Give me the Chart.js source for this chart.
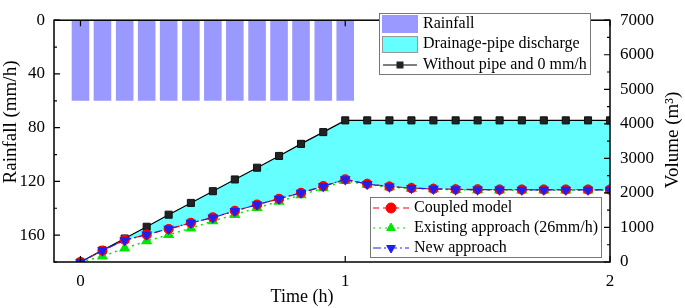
<!DOCTYPE html>
<html>
<head>
<meta charset="utf-8">
<script src="https://cdn.jsdelivr.net/npm/chart.js@4.4.0/dist/chart.umd.min.js"></script>
<style>
  html, body { margin: 0; padding: 0; background: #fff; }
  #chart { display: block; }
</style>
</head>
<body>
<canvas id="chart" width="685" height="308"></canvas>
<script>
// time axis (h), one point every 5 min
var times = [0, 0.083, 0.167, 0.25, 0.333, 0.417, 0.5, 0.583, 0.667, 0.75, 0.833, 0.917, 1,
             1.083, 1.167, 1.25, 1.333, 1.417, 1.5, 1.583, 1.667, 1.75, 1.833, 1.917, 2];

// rainfall bars (mm/h), left axis
var rainTimes = [0, 0.083, 0.167, 0.25, 0.333, 0.417, 0.5, 0.583, 0.667, 0.75, 0.833, 0.917, 1];
var rainfall = [60, 60, 60, 60, 60, 60, 60, 60, 60, 60, 60, 60, 60];

// volumes (m3), right axis
var withoutPipe = [0, 340, 680, 1020, 1370, 1710, 2050, 2390, 2730, 3070, 3420, 3760, 4100,
                   4100, 4100, 4100, 4100, 4100, 4100, 4100, 4100, 4100, 4100, 4100, 4100];
var coupled = [0, 330, 640, 790, 955, 1130, 1290, 1480, 1660, 1830, 2000, 2195, 2390,
               2260, 2185, 2140, 2120, 2105, 2100, 2095, 2095, 2095, 2095, 2095, 2095];
var existing = [0, 165, 395, 605, 790, 975, 1185, 1370, 1570, 1755, 1940, 2140, 2350,
                2240, 2170, 2130, 2110, 2090, 2085, 2080, 2080, 2080, 2080, 2080, 2080];
var newApproach = [0, 335, 630, 795, 960, 1130, 1285, 1475, 1660, 1830, 2005, 2190, 2390,
                   2255, 2180, 2140, 2115, 2100, 2095, 2095, 2090, 2090, 2090, 2090, 2090];

var xTicks = [0, 1, 2];
var rainTicks = [0, 40, 80, 120, 160];
var volTicks = [0, 1000, 2000, 3000, 4000, 5000, 6000, 7000];

var FONT = "'Liberation Serif', 'Times New Roman', serif";

function pts(xs, ys) {
  return xs.map(function (x, i) { return { x: x, y: ys[i] }; });
}

function plainLabel(v) { return String(v); }

// frame, inward ticks, axis titles and the two legend boxes
var decorPlugin = {
  id: 'decor',
  afterDraw: function (chart) {
    var ctx = chart.ctx, a = chart.chartArea;
    var sx = chart.scales.x, yl = chart.scales.yL, yr = chart.scales.yR;
    ctx.save();
    ctx.strokeStyle = '#000';
    ctx.lineWidth = 1.5;
    ctx.strokeRect(a.left, a.top, a.right - a.left, a.bottom - a.top);

    ctx.lineWidth = 1.2;
    ctx.beginPath();
    for (var v = 0; v <= 180; v += 20) {
      var p = yl.getPixelForValue(v);
      var len = v % 40 === 0 ? 6 : 3;
      ctx.moveTo(a.left, p); ctx.lineTo(a.left + len, p);
    }
    for (var w = 0; w <= 7000; w += 500) {
      var q = yr.getPixelForValue(w);
      var len2 = w % 1000 === 0 ? 6 : 3;
      ctx.moveTo(a.right, q); ctx.lineTo(a.right - len2, q);
    }
    xTicks.forEach(function (t) {
      var px = sx.getPixelForValue(t);
      ctx.moveTo(px, a.bottom); ctx.lineTo(px, a.bottom - 6);
      ctx.moveTo(px, a.top); ctx.lineTo(px, a.top + 6);
    });
    ctx.stroke();

    // axis titles
    ctx.fillStyle = '#000';
    ctx.textAlign = 'center';
    ctx.textBaseline = 'middle';
    ctx.font = '18px ' + FONT;
    ctx.fillText('Time (h)', 302, 297);
    ctx.font = '19px ' + FONT;
    ctx.save();
    ctx.translate(11, 122);
    ctx.rotate(-Math.PI / 2);
    ctx.fillText('Rainfall (mm/h)', 0, 0);
    ctx.restore();
    ctx.save();
    ctx.translate(673, 140);
    ctx.rotate(-Math.PI / 2);
    ctx.fillText('Volume (m\u00b3)', 0, 0);
    ctx.restore();

    // top legend
    ctx.font = '16px ' + FONT;
    ctx.textAlign = 'left';
    ctx.fillStyle = '#fff';
    ctx.fillRect(379, 13, 211, 61);
    ctx.strokeStyle = '#777';
    ctx.lineWidth = 1;
    ctx.strokeRect(379.5, 13.5, 211, 61);
    ctx.fillStyle = '#9999FF';
    ctx.fillRect(382, 15, 36, 18);
    ctx.fillStyle = '#66FFFF';
    ctx.fillRect(382, 36, 36, 17);
    ctx.strokeStyle = '#999';
    ctx.strokeRect(382.5, 36.5, 35, 16);
    ctx.strokeStyle = '#000';
    ctx.lineWidth = 1.2;
    ctx.beginPath(); ctx.moveTo(383, 65); ctx.lineTo(417, 65); ctx.stroke();
    ctx.fillStyle = '#222';
    ctx.fillRect(396.5, 61.5, 7, 7);
    ctx.fillStyle = '#000';
    ctx.fillText('Rainfall', 423, 24);
    ctx.fillText('Drainage-pipe discharge', 423, 44);
    ctx.fillText('Without pipe and 0 mm/h', 423, 65);

    // bottom legend
    ctx.fillStyle = '#fff';
    ctx.fillRect(370, 197, 231, 60);
    ctx.strokeStyle = '#777';
    ctx.lineWidth = 1;
    ctx.strokeRect(370.5, 197.5, 231, 60);
    var rows = [
      { y: 208, color: '#FF0000', dash: [6, 4], style: 'circle', rot: 0, label: 'Coupled model' },
      { y: 228, color: '#00E600', dash: [2, 4], style: 'triangle', rot: 0, label: 'Existing approach (26mm/h)' },
      { y: 248, color: '#1F1FF0', dash: [8, 3, 2, 3], style: 'triangle', rot: 180, label: 'New approach' }
    ];
    rows.forEach(function (r) {
      ctx.save();
      ctx.strokeStyle = r.color;
      ctx.lineWidth = 1.2;
      ctx.setLineDash(r.dash);
      ctx.beginPath(); ctx.moveTo(373, r.y); ctx.lineTo(409, r.y); ctx.stroke();
      ctx.restore();
      ctx.fillStyle = r.color;
      ctx.strokeStyle = r.color;
      Chart.helpers.drawPoint(ctx, { pointStyle: r.style, radius: 5, rotation: r.rot, borderWidth: 1 }, 391, r.y);
      ctx.fillStyle = '#000';
      ctx.fillText(r.label, 414, r.y);
    });
    ctx.restore();
  }
};

var config = {
  type: 'line',
  data: {
    datasets: [{
      type: 'bar',
      label: 'Rainfall',
      data: pts(rainTimes, rainfall),
      xAxisID: 'x',
      yAxisID: 'yL',
      backgroundColor: '#9999FF',
      borderWidth: 0,
      barPercentage: 0.8,
      categoryPercentage: 1,
      order: 4
    }, {
      label: 'Without pipe and 0 mm/h',
      data: pts(times, withoutPipe),
      yAxisID: 'yR',
      borderColor: '#000',
      borderWidth: 1.2,
      backgroundColor: '#66FFFF',
      fill: 2,
      pointStyle: 'rect',
      pointRadius: 5,
      pointBackgroundColor: '#222',
      pointBorderColor: '#111',
      pointBorderWidth: 1,
      order: 3
    }, {
      label: 'Coupled model',
      data: pts(times, coupled),
      yAxisID: 'yR',
      borderColor: '#FF0000',
      borderWidth: 1.2,
      borderDash: [6, 4],
      fill: false,
      pointStyle: 'circle',
      pointRadius: 4.5,
      pointBackgroundColor: '#FF0000',
      pointBorderColor: '#FF0000',
      order: 1
    }, {
      label: 'Existing approach (26mm/h)',
      data: pts(times, existing),
      yAxisID: 'yR',
      borderColor: '#00E600',
      borderWidth: 1.5,
      borderDash: [2, 4],
      fill: false,
      pointStyle: 'triangle',
      pointRadius: 5,
      pointBackgroundColor: '#00E600',
      pointBorderColor: '#00E600',
      order: 2
    }, {
      label: 'New approach',
      data: pts(times, newApproach),
      yAxisID: 'yR',
      borderColor: '#1F1FF0',
      borderWidth: 1.2,
      borderDash: [8, 3, 2, 3],
      fill: false,
      pointStyle: 'triangle',
      pointRotation: 180,
      pointRadius: 5,
      pointBackgroundColor: '#1F1FF0',
      pointBorderColor: '#1F1FF0',
      order: 0
    }]
  },
  options: {
    responsive: false,
    devicePixelRatio: 1,
    animation: false,
    layout: { padding: { top: 8, left: 0, right: 0, bottom: 0 } },
    plugins: {
      legend: { display: false },
      tooltip: { enabled: false }
    },
    scales: {
      x: {
        type: 'linear',
        min: -0.1,
        max: 2,
        offset: false,
        grid: { display: false, drawTicks: false },
        border: { display: false },
        afterBuildTicks: function (s) { s.ticks = xTicks.map(function (v) { return { value: v }; }); },
        afterFit: function (s) { s.height = 46; },
        ticks: { color: '#000', padding: 9, maxRotation: 0, autoSkip: false, callback: plainLabel, font: { family: FONT, size: 17 } }
      },
      yL: {
        type: 'linear',
        position: 'left',
        reverse: true,
        min: 0,
        max: 180,
        grid: { display: false, drawTicks: false },
        border: { display: false },
        afterBuildTicks: function (s) { s.ticks = rainTicks.map(function (v) { return { value: v }; }); },
        afterFit: function (s) { s.width = 54; },
        ticks: { color: '#000', padding: 9, callback: plainLabel, font: { family: FONT, size: 17 } }
      },
      yR: {
        type: 'linear',
        position: 'right',
        min: 0,
        max: 7000,
        grid: { display: false, drawTicks: false },
        border: { display: false },
        afterBuildTicks: function (s) { s.ticks = volTicks.map(function (v) { return { value: v }; }); },
        afterFit: function (s) { s.width = 75; },
        ticks: { color: '#000', padding: 10, callback: plainLabel, font: { family: FONT, size: 17 } }
      }
    }
  },
  plugins: [decorPlugin]
};

window.onload = function () {
  var ctx = document.getElementById('chart').getContext('2d');
  window.volChart = new Chart(ctx, config);
};
</script>
</body>
</html>
